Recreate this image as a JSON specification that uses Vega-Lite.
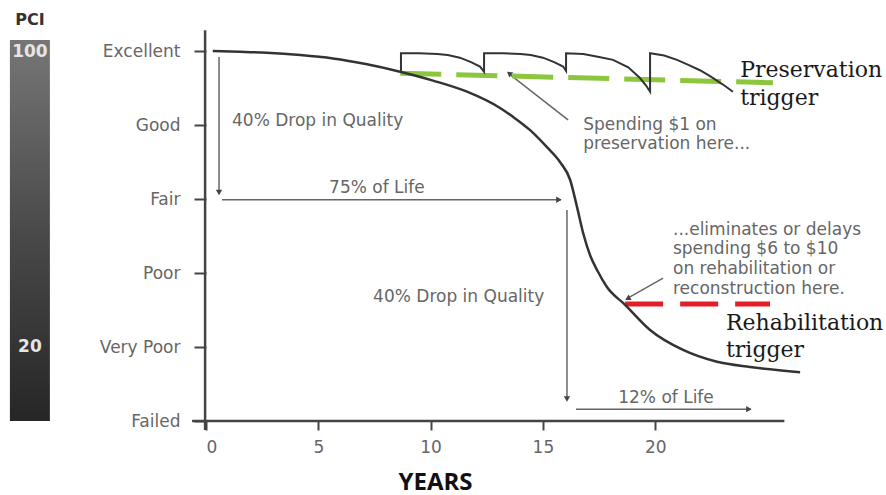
{
  "$schema": "https://vega.github.io/schema/vega-lite/v6.json",
  "autosize": {"type": "none"},
  "width": 584,
  "height": 370,
  "padding": {"left": 206, "top": 51, "right": 96, "bottom": 74},
  "background": "white",
  "config": {"view": {"stroke": null}, "axis": {"grid": false}},
  "datasets": {
    "pci": [{"yr": -8.73, "yr2": -6.95, "v": 5.15, "v2": 0.0}],
    "pciText": [
      {"yr": -7.84, "v": 5.42, "label": "PCI", "kind": "title"},
      {"yr": -7.84, "v": 4.99, "label": "100", "kind": "scale"},
      {"yr": -7.84, "v": 1.0, "label": "20", "kind": "scale"}
    ],
    "axes": [
      {"yr": -0.04, "v": -0.12, "yr2": -0.04, "v2": 5.28},
      {"yr": -0.62, "v": 0, "yr2": 25.75, "v2": 0}
    ],
    "curve": [
      {"yr": 0.30, "v": 5.0}, {"yr": 1.5, "v": 4.99}, {"yr": 2.7, "v": 4.977},
      {"yr": 4.2, "v": 4.946}, {"yr": 5.65, "v": 4.9}, {"yr": 7.17, "v": 4.82},
      {"yr": 8.64, "v": 4.72}, {"yr": 10.11, "v": 4.6}, {"yr": 11.62, "v": 4.45},
      {"yr": 13.09, "v": 4.23}, {"yr": 13.67, "v": 4.11}, {"yr": 14.43, "v": 3.93},
      {"yr": 15.18, "v": 3.7}, {"yr": 15.76, "v": 3.5}, {"yr": 16.21, "v": 3.26},
      {"yr": 16.52, "v": 2.89}, {"yr": 16.79, "v": 2.54}, {"yr": 17.1, "v": 2.24},
      {"yr": 17.41, "v": 2.04}, {"yr": 17.85, "v": 1.81}, {"yr": 18.66, "v": 1.57},
      {"yr": 19.77, "v": 1.23}, {"yr": 21.24, "v": 0.96}, {"yr": 22.75, "v": 0.8},
      {"yr": 24.22, "v": 0.73}, {"yr": 26.45, "v": 0.66}
    ],
    "teeth": [
      {"o": 1, "yr": 8.68, "v": 4.71}, {"o": 2, "yr": 8.68, "v": 4.97},
      {"o": 3, "yr": 9.5, "v": 4.968}, {"o": 4, "yr": 10.3, "v": 4.96},
      {"o": 5, "yr": 10.76, "v": 4.946}, {"o": 6, "yr": 11.3, "v": 4.91},
      {"o": 7, "yr": 11.8, "v": 4.85}, {"o": 8, "yr": 12.2, "v": 4.79},
      {"o": 9, "yr": 12.38, "v": 4.72}, {"o": 10, "yr": 12.38, "v": 4.97},
      {"o": 11, "yr": 13.2, "v": 4.968}, {"o": 12, "yr": 14.0, "v": 4.96},
      {"o": 13, "yr": 14.46, "v": 4.946}, {"o": 14, "yr": 15.0, "v": 4.91},
      {"o": 15, "yr": 15.5, "v": 4.85}, {"o": 16, "yr": 15.9, "v": 4.79},
      {"o": 17, "yr": 16.03, "v": 4.73}, {"o": 18, "yr": 16.03, "v": 4.97},
      {"o": 19, "yr": 16.8, "v": 4.96}, {"o": 20, "yr": 17.5, "v": 4.92},
      {"o": 21, "yr": 18.12, "v": 4.88}, {"o": 22, "yr": 18.8, "v": 4.78},
      {"o": 23, "yr": 19.32, "v": 4.635}, {"o": 24, "yr": 19.6, "v": 4.53},
      {"o": 25, "yr": 19.77, "v": 4.45}, {"o": 26, "yr": 19.77, "v": 4.97},
      {"o": 27, "yr": 20.4, "v": 4.94}, {"o": 28, "yr": 20.97, "v": 4.88},
      {"o": 29, "yr": 21.5, "v": 4.81}, {"o": 30, "yr": 21.99, "v": 4.74},
      {"o": 31, "yr": 22.44, "v": 4.66}, {"o": 32, "yr": 23.0, "v": 4.55},
      {"o": 33, "yr": 23.46, "v": 4.45}
    ],
    "preservation": [{"yr": 8.65, "v": 4.7}, {"yr": 25.24, "v": 4.57}],
    "rehabilitation": [{"yr": 18.66, "v": 1.58}, {"yr": 25.11, "v": 1.58}],
    "arrows": [
      {"id": "a1", "yr": 0.58, "v": 4.92, "yr2": 0.58, "v2": 3.08},
      {"id": "a2", "yr": 0.71, "v": 2.99, "yr2": 15.8, "v2": 2.99},
      {"id": "a3", "yr": 16.07, "v": 2.85, "yr2": 16.07, "v2": 0.28},
      {"id": "a4", "yr": 16.47, "v": 0.16, "yr2": 24.25, "v2": 0.16},
      {"id": "a5", "yr": 13.45, "v": 4.7, "yr2": 16.12, "v2": 4.07},
      {"id": "a6", "yr": 18.72, "v": 1.65, "yr2": 20.35, "v2": 1.93}
    ],
    "heads": [
      {"id": "a1", "dir": "down", "yr": 0.58, "v": 3.1},
      {"id": "a3", "dir": "down", "yr": 16.07, "v": 0.31},
      {"id": "a2", "dir": "right", "yr": 15.67, "v": 2.99},
      {"id": "a4", "dir": "right", "yr": 24.13, "v": 0.16},
      {"id": "a5", "dir": "upleft", "yr": 13.53, "v": 4.69},
      {"id": "a6", "dir": "downleft", "yr": 18.81, "v": 1.66}
    ],
    "notes": [
      {"yr": 1.16, "v": 4.05, "label": "40% Drop in Quality", "al": "left"},
      {"yr": 7.61, "v": 3.15, "label": "75% of Life", "al": "center"},
      {"yr": 16.79, "v": 4.0, "label": "Spending $1 on", "al": "left"},
      {"yr": 16.79, "v": 3.74, "label": "preservation here...", "al": "left"},
      {"yr": 20.79, "v": 2.58, "label": "...eliminates or delays", "al": "left"},
      {"yr": 20.79, "v": 2.32, "label": "spending $6 to $10", "al": "left"},
      {"yr": 20.79, "v": 2.05, "label": "on rehabilitation or", "al": "left"},
      {"yr": 20.79, "v": 1.79, "label": "reconstruction here.", "al": "left"},
      {"yr": 7.44, "v": 1.68, "label": "40% Drop in Quality", "al": "left"},
      {"yr": 20.48, "v": 0.31, "label": "12% of Life", "al": "center"}
    ],
    "triggers": [
      {"yr": 23.78, "v": 4.65, "label": "Preservation"},
      {"yr": 23.78, "v": 4.27, "label": "trigger"},
      {"yr": 23.15, "v": 1.23, "label": "Rehabilitation"},
      {"yr": 23.15, "v": 0.865, "label": "trigger"}
    ]
  },
  "encoding": {
    "x": {
      "field": "yr", "type": "quantitative",
      "scale": {"domain": [0, 26], "nice": false, "zero": false},
      "axis": {
        "values": [0, 5, 10, 15, 20], "domain": false,
        "tickSize": 9, "tickWidth": 2, "tickColor": "#444",
        "labelFont": "DejaVu Sans", "labelFontSize": 17, "labelColor": "#666", "labelPadding": 9,
        "title": "YEARS", "titleFont": "Open Sans", "titleFontSize": 24, "titleFontWeight": "bold",
        "titleColor": "#111", "titleX": 229, "titleY": 61, "titleBaseline": "middle", "titleAlign": "center"
      }
    },
    "y": {
      "field": "v", "type": "quantitative",
      "scale": {"domain": [0, 5], "nice": false, "zero": false},
      "axis": {
        "values": [0, 1, 2, 3, 4, 5], "domain": false,
        "tickSize": 12, "tickWidth": 2, "tickColor": "#444",
        "labelFont": "DejaVu Sans", "labelFontSize": 17, "labelColor": "#666", "labelPadding": 14,
        "labelExpr": "['Failed','Very Poor','Poor','Fair','Good','Excellent'][datum.value]",
        "title": null
      }
    }
  },
  "layer": [
    {
      "data": {"name": "pci"},
      "mark": {"type": "rect", "fill": {"gradient": "linear", "x1": 0, "y1": 0, "x2": 0, "y2": 1,
        "stops": [{"offset": 0, "color": "#767676"}, {"offset": 0.5, "color": "#4a4a4a"}, {"offset": 1, "color": "#262626"}]}},
      "encoding": {"x2": {"field": "yr2"}, "y2": {"field": "v2"}}
    },
    {
      "data": {"name": "pciText"},
      "transform": [{"filter": "datum.kind == 'title'"}],
      "mark": {"type": "text", "font": "DejaVu Sans", "fontWeight": "bold", "fontSize": 16, "color": "#333", "align": "center", "baseline": "middle"},
      "encoding": {"text": {"field": "label"}}
    },
    {
      "data": {"name": "pciText"},
      "transform": [{"filter": "datum.kind == 'scale'"}],
      "mark": {"type": "text", "font": "DejaVu Sans", "fontWeight": "bold", "fontSize": 17, "color": "#e6e6e6", "align": "center", "baseline": "middle"},
      "encoding": {"text": {"field": "label"}}
    },
    {
      "data": {"name": "axes"},
      "mark": {"type": "rule", "color": "#444", "strokeWidth": 2.5},
      "encoding": {"x2": {"field": "yr2"}, "y2": {"field": "v2"}}
    },
    {
      "data": {"name": "arrows"},
      "mark": {"type": "rule", "color": "#666", "strokeWidth": 1.5},
      "encoding": {"x2": {"field": "yr2"}, "y2": {"field": "v2"}}
    },
    {
      "data": {"name": "heads"},
      "transform": [{"filter": "datum.dir == 'down'"}],
      "mark": {"type": "point", "shape": "triangle", "angle": 180, "size": 40, "filled": true, "color": "#444", "opacity": 1}
    },
    {
      "data": {"name": "heads"},
      "transform": [{"filter": "datum.dir == 'right'"}],
      "mark": {"type": "point", "shape": "triangle", "angle": 90, "size": 40, "filled": true, "color": "#444", "opacity": 1}
    },
    {
      "data": {"name": "heads"},
      "transform": [{"filter": "datum.dir == 'upleft'"}],
      "mark": {"type": "point", "shape": "triangle", "angle": 308, "size": 40, "filled": true, "color": "#444", "opacity": 1}
    },
    {
      "data": {"name": "heads"},
      "transform": [{"filter": "datum.dir == 'downleft'"}],
      "mark": {"type": "point", "shape": "triangle", "angle": 240, "size": 40, "filled": true, "color": "#444", "opacity": 1}
    },
    {
      "data": {"name": "preservation"},
      "mark": {"type": "line", "color": "#8cc63f", "strokeWidth": 5, "strokeDash": [41, 15]}
    },
    {
      "data": {"name": "rehabilitation"},
      "mark": {"type": "line", "color": "#e41e26", "strokeWidth": 5, "strokeDash": [38, 17]}
    },
    {
      "data": {"name": "teeth"},
      "mark": {"type": "line", "color": "#333", "strokeWidth": 2},
      "encoding": {"order": {"field": "o"}}
    },
    {
      "data": {"name": "curve"},
      "mark": {"type": "line", "color": "#333", "strokeWidth": 2.5, "interpolate": "monotone"}
    },
    {
      "data": {"name": "notes"},
      "transform": [{"filter": "datum.al == 'left'"}],
      "mark": {"type": "text", "font": "DejaVu Sans", "fontSize": 17, "color": "#666", "align": "left", "baseline": "middle"},
      "encoding": {"text": {"field": "label"}}
    },
    {
      "data": {"name": "notes"},
      "transform": [{"filter": "datum.al == 'center'"}],
      "mark": {"type": "text", "font": "DejaVu Sans", "fontSize": 17, "color": "#666", "align": "center", "baseline": "middle"},
      "encoding": {"text": {"field": "label"}}
    },
    {
      "data": {"name": "triggers"},
      "mark": {"type": "text", "font": "DejaVu Serif", "fontSize": 22, "color": "#1a1a1a", "align": "left", "baseline": "alphabetic"},
      "encoding": {"text": {"field": "label"}}
    }
  ]
}
